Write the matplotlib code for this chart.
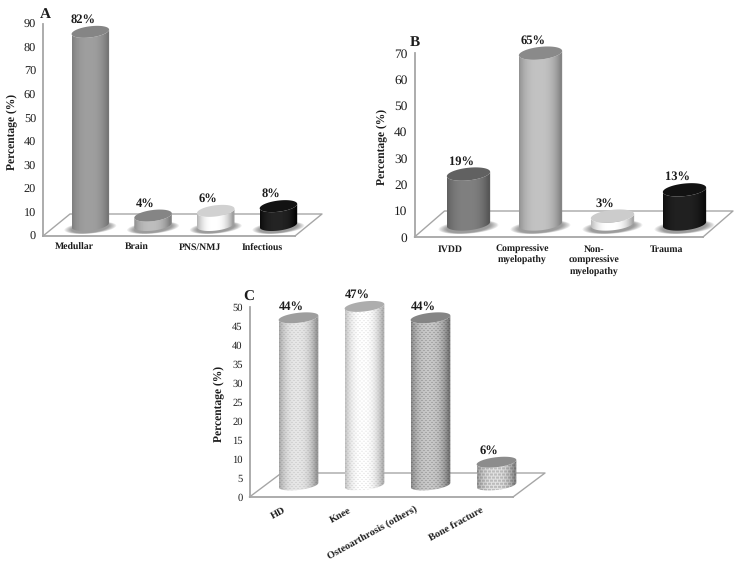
import numpy as np
import matplotlib
matplotlib.use("Agg")
import matplotlib.pyplot as plt
from matplotlib.path import Path
from matplotlib.patches import PathPatch

plt.rcParams['font.family'] = ['Liberation Serif', 'DejaVu Serif']
plt.rcParams['text.hinting'] = 'no_hinting'

# ---- data ----
cats_a = ['Medullar', 'Brain', 'PNS/NMJ', 'Infectious']
vals_a = [82, 4, 6, 8]
cats_b = ['IVDD', 'Compressive\nmyelopathy', 'Non-\ncompressive\nmyelopathy', 'Trauma']
vals_b = [19, 65, 3, 13]
cats_c = ['HD', 'Knee', 'Osteoarthrosis (others)', 'Bone fracture']
vals_c = [44, 47, 44, 6]

# ---- styles: (edge grey, mid grey, top grey, texture) ----
style_a = [(0.46, 0.62, 0.52, None), (0.50, 0.74, 0.52, None),
           (0.62, 1.00, 0.82, None), (0.02, 0.14, 0.07, None)]
style_b = [(0.34, 0.50, 0.38, None), (0.52, 0.76, 0.54, None),
           (0.66, 1.00, 0.80, None), (0.04, 0.13, 0.07, None)]
style_c = [(0.60, 0.90, 0.62, 'dots'), (0.70, 1.00, 0.68, 'dots'),
           (0.48, 0.78, 0.52, 'dense'), (0.52, 0.84, 0.55, 'brick')]

W, H = 746, 569
fig = plt.figure(figsize=(W / 100, H / 100), dpi=100)
LINE = '#a6a6a6'
TXT = '#1c1c1c'


def ellipse_xy(cx, cy, a, b, tilt, t):
    return cx + a * np.cos(t), cy + b * np.sin(t) + tilt * np.cos(t)


def texture(kind, h, w):
    yy, xx = np.mgrid[0:h, 0:w]
    if kind == 'dots':
        return 1 - 0.08 * (((xx + 2 * (yy // 2)) % 4 < 2) & (yy % 2 == 0))
    if kind == 'dense':
        return 1 - 0.16 * (((xx + 2 * (yy // 2)) % 4 < 2) & (yy % 2 == 0))
    if kind == 'brick':
        mortar = (yy % 3 == 0) | (((xx + 2 * (yy // 3)) % 4) == 0)
        return np.where(mortar, 1.06, 0.88)
    return np.ones((h, w))


def panel(box, letter, letter_xy, cats, vals, ymax, step, depth, back_y, bar_off,
          base_y, bar_w, half_h, styles, fs_tick, ylabel_x, shadow=True,
          rotate=False, label_fs=9.0, cat_fs=7.0, cat_pad=5, tick_pad=5):
    left, top, right, bottom, unit = box
    ax = fig.add_axes([left / W, 1 - bottom / H, (right - left) / W, (bottom - top) / H])
    n = len(cats)
    x0 = -0.5
    ax.set_xlim(x0, x0 + (right - left) / unit)
    ax.set_ylim(0, ymax)
    ax.patch.set_alpha(0)
    py = (bottom - top) / ymax          # pixels per value unit
    dx = depth / unit
    dy = (bottom - back_y) / py
    # floor
    fx = [ax.get_xlim()[0], ax.get_xlim()[0] + dx, ax.get_xlim()[1] + dx, ax.get_xlim()[1]]
    fy = [0, dy, dy, 0]
    ax.plot(fx, fy, color=LINE, lw=1.0, clip_on=False, zorder=1)
    for s in ['top', 'right']:
        ax.spines[s].set_visible(False)
    for s in ['left', 'bottom']:
        ax.spines[s].set_color(LINE)
        ax.spines[s].set_linewidth(1.3)
    ax.set_yticks(np.arange(0, ymax + 1, step))
    ax.tick_params(axis='y', length=0, pad=tick_pad, labelsize=fs_tick, labelcolor=TXT)
    ax.set_xticks(range(n))
    if rotate:
        ax.set_xticklabels(cats, rotation=29, ha='right', rotation_mode='anchor',
                           fontweight='bold', fontsize=cat_fs, color=TXT)
    else:
        ax.set_xticklabels(cats, fontweight='bold', fontsize=cat_fs, color=TXT,
                           linespacing=1.35)
    ax.tick_params(axis='x', length=0, pad=cat_pad)
    fig.text(ylabel_x / W, 1 - (top + bottom) / 2 / H - 0.004, 'Percentage (%)',
             rotation=90, ha='center', va='center', fontweight='bold', fontsize=8.3, color=TXT)
    fig.text(letter_xy[0] / W, 1 - letter_xy[1] / H, letter, ha='left', va='baseline',
             fontweight='bold', fontsize=11, color=TXT)

    a = (bar_w / 2) / unit
    b = half_h / py
    tilt = 2.2 / py
    base = base_y / py
    t = np.linspace(0, 2 * np.pi, 120)
    for i, (v, st) in enumerate(zip(vals, styles)):
        cx = i + bar_off / unit
        edge, mid, topc, tex = st
        # soft shadow on the floor
        if shadow:
            for k in np.linspace(1.38, 1.02, 7):
                sx, sy = ellipse_xy(cx, base - 0.5 * b, a * k, b * (0.55 + k * 0.35), tilt, t)
                ax.fill(sx, sy, color='#222222', alpha=0.08, lw=0, zorder=2, clip_on=False)
        ytop = base + v
        # body outline
        t1 = np.linspace(np.pi, 2 * np.pi, 50)
        bx, by = ellipse_xy(cx, base, a, b, tilt, t1)
        tx, ty = ellipse_xy(cx, ytop, a, b, tilt, t1[::-1])
        verts = np.column_stack([np.r_[bx, tx], np.r_[by, ty]])
        verts = np.vstack([verts, verts[0]])
        clip = PathPatch(Path(verts), transform=ax.transData, fc='none', ec='none', clip_on=False)
        ax.add_patch(clip)
        # horizontal shading
        ylo = base - b - tilt
        yhi = ytop + b + tilt
        w_px = int(round(bar_w))
        h_px = max(int(round((yhi - ylo) * py)), 2)
        u = np.linspace(-1, 1, w_px)
        shade = edge + (mid - edge) * np.clip(1 - np.abs(u + 0.1) ** 2.6, 0, 1)
        img = np.tile(shade, (h_px, 1)) * texture(tex, h_px, w_px)
        im = ax.imshow(np.clip(img, 0, 1), extent=[cx - a, cx + a, ylo, yhi], cmap='gray',
                       vmin=0, vmax=1, aspect='auto', zorder=3,
                       interpolation='bilinear' if tex else 'nearest')
        im.set_clip_path(clip)
        im.set_clip_box(fig.bbox)
        # top cap
        ex, ey = ellipse_xy(cx, ytop, a, b, tilt, t)
        ax.fill(ex, ey, color=str(topc), lw=0, zorder=4, clip_on=False)
        # value label
        ax.annotate(f'{v}%', (cx, ytop + b + tilt), xytext=(-5.4, -1.2),
                    textcoords='offset points', ha='center', va='bottom', fontweight='bold',
                    fontsize=label_fs, color=TXT, zorder=6, annotation_clip=False)
    ax.set_xlim(x0, x0 + (right - left) / unit)
    ax.set_ylim(0, ymax)
    return ax


panel((43, 24, 295, 236, 62.7), 'A', (40, 18), cats_a, vals_a, 90, 10,
      27, 214, 16, 11, 37.5, 5.6, style_a, 8.8, 11.5)
panel((414.5, 53, 703, 237, 72), 'B', (409.5, 46), cats_b, vals_b, 70, 10,
      30, 211, 18, 13, 43.3, 6.3, style_b, 9.6, 381.5, cat_pad=5.5)
panel((249.5, 307, 513, 497, 66), 'C', (243.5, 301), cats_c, vals_c, 50, 5,
      32, 473, 16, 12, 39.7, 5.0, style_c, 7.6, 219, shadow=False, rotate=True,
      cat_pad=6, cat_fs=7.4)

fig.savefig('out.png', dpi=100, facecolor='white')
